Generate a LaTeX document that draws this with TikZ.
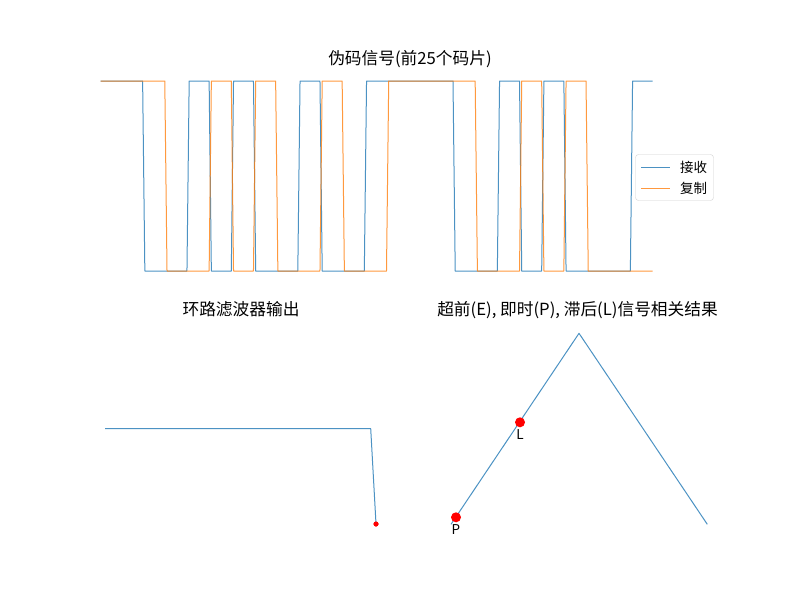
\documentclass[tikz,border=0pt]{standalone}
\usepackage{fontspec}
\setmainfont{Noto Sans CJK SC}
\usetikzlibrary{positioning}
\definecolor{recv}{HTML}{1F77B4}
\definecolor{replica}{HTML}{FF7F0E}

\begin{document}
\begin{tikzpicture}[x=1pt,y=-1pt]
    \tikzset{
        title/.style = {font=\fontsize{16.7}{20}\selectfont, inner sep=0pt},
        recvline/.style = {draw=recv, line width=1pt, opacity=0.8, line join=round},
        replline/.style = {draw=replica, line width=1pt, opacity=0.8, line join=round},
        dot/.style = {circle, fill=red, inner sep=0pt, minimum size=10pt},
        tag/.style = {font=\fontsize{13.5}{16}\selectfont, inner sep=1pt},
    }
    \useasboundingbox (0,0) rectangle (800,600);

    % titles
    \node [title] (t1) at (410,59) {伪码信号(前25个码片)};
    \node [title] (t2) at (241,309) {环路滤波器输出};
    \node [title] (t3) at (577.5,310) {超前(E), 即时(P), 滞后(L)信号相关结果};

    % received and replica code, 25 chips
    \draw [recvline] (100.5,81) \foreach \v [count=\i from 0] in {1,1,0,0,1,0,1,0,0,1,0,0,1,1,1,1,0,0,1,0,1,0,0,0,1}
        { -- ({100.5+22.17*\i},{271-190*\v}) -- ({100.5+22.17*\i+19.95},{271-190*\v}) };
    \draw [replline] (100.5,81) \foreach \v [count=\i from 0] in {1,1,1,0,0,1,0,1,0,0,1,0,0,1,1,1,1,0,0,1,0,1,0,0,0}
        { -- ({100.5+22.17*\i},{271-190*\v}) -- ({100.5+22.17*\i+19.95},{271-190*\v}) };

    % legend
    \node [draw=black!18, rounded corners=3pt, fill=white, fill opacity=0.8,
           minimum width=78pt, minimum height=46pt] (legend) at (674.5,177.5) {};
    \node [tag, anchor=west] (lrecv) at (679,167) {接收};
    \node [tag, anchor=west] (lrepl) at (679,188.5) {复制};
    \draw [recvline] ([xshift=-38pt]lrecv.west) -- ([xshift=-9pt]lrecv.west);
    \draw [replline] ([xshift=-38pt]lrepl.west) -- ([xshift=-9pt]lrepl.west);

    % loop filter output
    \coordinate (f0) at (105,428.5);
    \coordinate (f1) at (370.7,428.5);
    \node [dot, minimum size=5pt] (fend) at (376,524) {};
    \draw [recvline] (f0) -- (f1) -- (fend.center);
    \node [dot, minimum size=5pt] at (fend) {};

    % early / prompt / late correlation
    \coordinate (c0) at (451,524.3);
    \coordinate (cpeak) at (579,333.3);
    \coordinate (c1) at (707.3,524.3);
    \draw [recvline] (c0) -- (cpeak) -- (c1);
    \node [dot] (p) at (456,517.3) {};
    \node [dot] (l) at (520,422.3) {};
    \node [tag, below=1pt of p] (ptag) {P};
    \node [tag, below=1pt of l] (ltag) {L};
\end{tikzpicture}
\end{document}
